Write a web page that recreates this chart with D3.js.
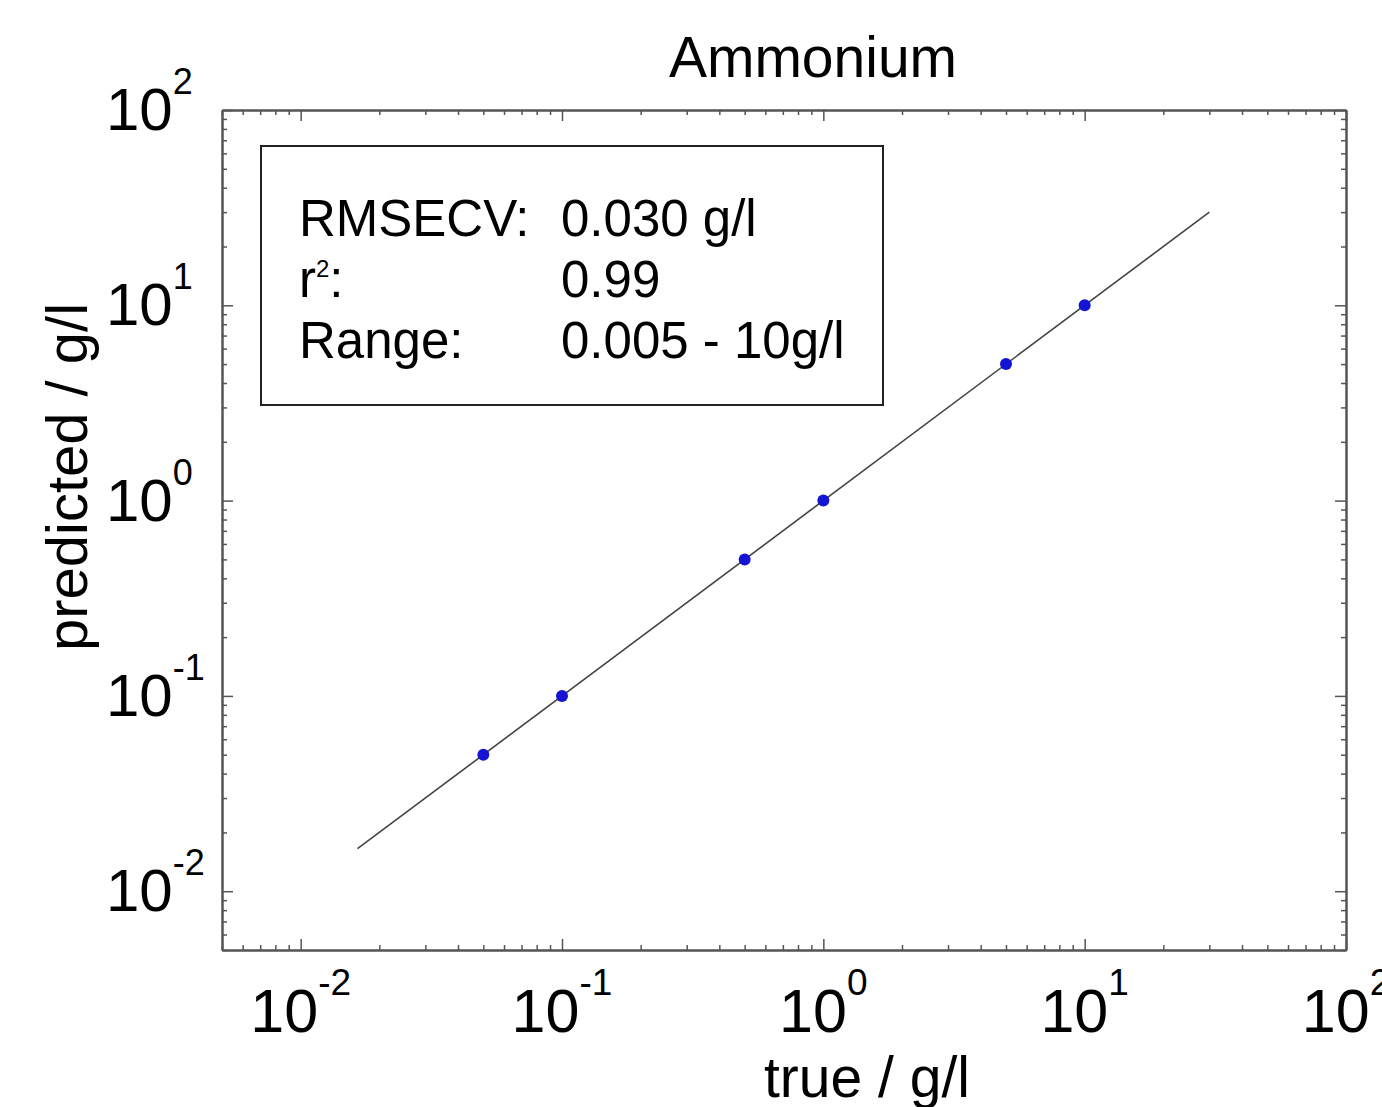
<!DOCTYPE html>
<html>
<head>
<meta charset="utf-8">
<script src="https://cdn.jsdelivr.net/npm/d3@7"></script>
<style>
  html, body { margin: 0; padding: 0; background: #fff; }
  svg { display: block; font-family: "Liberation Sans", Arial, sans-serif; }
</style>
</head>
<body>
<svg id="chart" width="1382" height="1107"></svg>
<script>
// ---- data ----
const trueValues = [0.05, 0.1, 0.5, 1, 5, 10];
const predictedValues = [0.05, 0.1, 0.5, 1, 5, 10];
const fitLineX = [0.0165, 30];
const fitLineY = [0.0165, 30];
const majorTicks = [0.01, 0.1, 1, 10, 100];
const tickExponents = ["-2", "-1", "0", "1", "2"];
const axisDomain = [0.005, 100];
const titleText = "Ammonium";
const xLabelText = "true / g/l";
const yLabelText = "predicted / g/l";
const statsLabels = ["RMSECV:", "r", "Range:"];
const statsValues = ["0.030 g/l", "0.99", "0.005 - 10g/l"];

// ---- layout ----
const L = 222, R = 1346, T = 110, B = 950;
const svg = d3.select("#chart");
const x = d3.scaleLog().domain(axisDomain).range([L, R]);
const y = d3.scaleLog().domain(axisDomain).range([B, T]);

const minorTicks = x.ticks().filter(v => !majorTicks.some(m => Math.abs(Math.log10(v) - Math.log10(m)) < 1e-9));
const axisColor = "#555";

function styleAxis(g) {
  g.selectAll("path.domain").attr("stroke", axisColor).attr("stroke-width", 2);
  g.selectAll(".tick line").attr("stroke", axisColor).attr("stroke-width", 1.5);
  g.selectAll(".tick text").remove();
}

// bottom
svg.append("g").attr("transform", `translate(0,${B})`)
  .call(d3.axisBottom(x).tickValues(majorTicks).tickSizeInner(-11).tickSizeOuter(0).tickFormat(""))
  .call(styleAxis);
svg.append("g").attr("transform", `translate(0,${B})`)
  .call(d3.axisBottom(x).tickValues(minorTicks).tickSizeInner(-5).tickSizeOuter(0).tickFormat(""))
  .call(styleAxis);
// top
svg.append("g").attr("transform", `translate(0,${T})`)
  .call(d3.axisTop(x).tickValues(majorTicks).tickSizeInner(-11).tickSizeOuter(0).tickFormat(""))
  .call(styleAxis);
svg.append("g").attr("transform", `translate(0,${T})`)
  .call(d3.axisTop(x).tickValues(minorTicks).tickSizeInner(-5).tickSizeOuter(0).tickFormat(""))
  .call(styleAxis);
// left
svg.append("g").attr("transform", `translate(${L},0)`)
  .call(d3.axisLeft(y).tickValues(majorTicks).tickSizeInner(-11).tickSizeOuter(0).tickFormat(""))
  .call(styleAxis);
svg.append("g").attr("transform", `translate(${L},0)`)
  .call(d3.axisLeft(y).tickValues(minorTicks).tickSizeInner(-5).tickSizeOuter(0).tickFormat(""))
  .call(styleAxis);
// right
svg.append("g").attr("transform", `translate(${R},0)`)
  .call(d3.axisRight(y).tickValues(majorTicks).tickSizeInner(-11).tickSizeOuter(0).tickFormat(""))
  .call(styleAxis);
svg.append("g").attr("transform", `translate(${R},0)`)
  .call(d3.axisRight(y).tickValues(minorTicks).tickSizeInner(-5).tickSizeOuter(0).tickFormat(""))
  .call(styleAxis);

// tick labels x
const xl = svg.append("g").selectAll("text").data(majorTicks).join("text")
  .attr("x", d => x(d)).attr("y", 1032)
  .attr("text-anchor", "middle").attr("font-size", 61).attr("fill", "#000");
xl.append("tspan").text("10");
xl.append("tspan").attr("dy", -37).attr("font-size", 37).text((d, i) => tickExponents[i]);

// tick labels y
const yl = svg.append("g").selectAll("text").data(majorTicks).join("text")
  .attr("x", 106).attr("y", d => y(d) + 20)
  .attr("text-anchor", "start").attr("font-size", 60).attr("fill", "#000");
yl.append("tspan").text("10");
yl.append("tspan").attr("dy", -36).attr("font-size", 36).text((d, i) => tickExponents[i]);

// fit line
svg.append("path")
  .datum(fitLineX.map((v, i) => [v, fitLineY[i]]))
  .attr("d", d3.line().x(d => x(d[0])).y(d => y(d[1])))
  .attr("stroke", "#444").attr("stroke-width", 1.6).attr("fill", "none");

// points
svg.append("g").selectAll("circle").data(trueValues).join("circle")
  .attr("cx", d => x(d)).attr("cy", (d, i) => y(predictedValues[i]))
  .attr("r", 6).attr("fill", "#1414d2");

// legend box
svg.append("rect").attr("x", 261).attr("y", 146).attr("width", 622).attr("height", 259)
  .attr("fill", "#fff").attr("stroke", "#222").attr("stroke-width", 2);
const rowY = [236, 297, 358];
statsLabels.forEach((s, i) => {
  const t = svg.append("text").attr("x", 299).attr("y", rowY[i]).attr("font-size", 51).attr("fill", "#000");
  if (s === "r") {
    t.append("tspan").text("r");
    t.append("tspan").attr("dy", -20).attr("font-size", 24).text("2");
    t.append("tspan").attr("dy", 20).text(":");
  } else {
    t.text(s);
  }
  svg.append("text").attr("x", 561).attr("y", rowY[i]).attr("font-size", 51).attr("fill", "#000").text(statsValues[i]);
});

// title & labels
svg.append("text").attr("x", 813).attr("y", 77).attr("text-anchor", "middle")
  .attr("font-size", 57).attr("fill", "#000").text(titleText);
svg.append("text").attr("x", 867).attr("y", 1097).attr("text-anchor", "middle")
  .attr("font-size", 57).attr("fill", "#000").text(xLabelText);
svg.append("text").attr("transform", "translate(87,477) rotate(-90)").attr("text-anchor", "middle")
  .attr("font-size", 58).attr("fill", "#000").text(yLabelText);
</script>
</body>
</html>
